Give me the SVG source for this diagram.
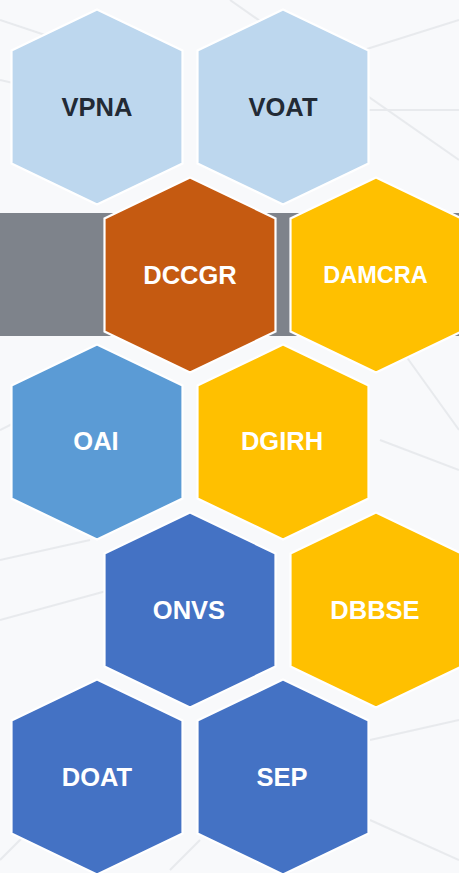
<svg xmlns="http://www.w3.org/2000/svg" width="459" height="873" viewBox="0 0 459 873">
<style>
.hex{stroke:#ffffff;stroke-width:2.2;stroke-linejoin:miter}
.lbl{font-family:"Liberation Sans",Arial,sans-serif;font-weight:bold;font-size:25.5px;text-anchor:middle}
.dark{fill:#222a35}
.light{fill:#ffffff}
.bg{stroke:#e4e6ea;stroke-width:2;fill:none;opacity:0.8}
</style>
<defs>
<polygon id="hx" points="0,-97.5 85.5,-56.5 85.5,56.5 0,97.5 -85.5,56.5 -85.5,-56.5"/>
</defs>
<rect x="0" y="0" width="459" height="873" fill="#f8f9fb"/>
<g id="background">
<path class="bg" d="M0,80 L130,110 M0,20 L60,40 M230,0 L459,160 M300,70 L459,20 M330,110 L459,110 M380,320 L459,430 M380,440 L459,470 M0,310 L110,280 M0,430 L20,420 M0,620 L110,590 M0,560 L90,540 M370,740 L459,720 M370,820 L459,860 M170,870 L200,840 M0,860 L40,820"/>
</g>
<rect id="band" x="0" y="213" width="459" height="123" fill="#7e838b"/>
<g id="n-vpna"><use href="#hx" x="97" y="107" class="hex" fill="#bdd7ee"/><text class="lbl dark" x="97" y="116">VPNA</text></g>
<g id="n-voat"><use href="#hx" x="283" y="107" class="hex" fill="#bdd7ee"/><text class="lbl dark" x="283" y="116">VOAT</text></g>
<g id="n-dccgr"><use href="#hx" x="190" y="275" class="hex" fill="#c55a11"/><text class="lbl light" x="190" y="284">DCCGR</text></g>
<g id="n-damcra"><use href="#hx" x="376" y="275" class="hex" fill="#ffc000"/><text class="lbl light" x="375.5" y="283" style="font-size:23.5px">DAMCRA</text></g>
<g id="n-oai"><use href="#hx" x="97" y="442" class="hex" fill="#5b9bd5"/><text class="lbl light" x="96" y="450">OAI</text></g>
<g id="n-dgirh"><use href="#hx" x="283" y="442" class="hex" fill="#ffc000"/><text class="lbl light" x="282" y="450">DGIRH</text></g>
<g id="n-onvs"><use href="#hx" x="190" y="610" class="hex" fill="#4472c4"/><text class="lbl light" x="189" y="619">ONVS</text></g>
<g id="n-dbbse"><use href="#hx" x="376" y="610" class="hex" fill="#ffc000"/><text class="lbl light" x="375" y="619">DBBSE</text></g>
<g id="n-doat"><use href="#hx" x="97" y="777" class="hex" fill="#4472c4"/><text class="lbl light" x="97" y="786">DOAT</text></g>
<g id="n-sep"><use href="#hx" x="283" y="777" class="hex" fill="#4472c4"/><text class="lbl light" x="282" y="786">SEP</text></g>
<g id="connectors"/>
</svg>
